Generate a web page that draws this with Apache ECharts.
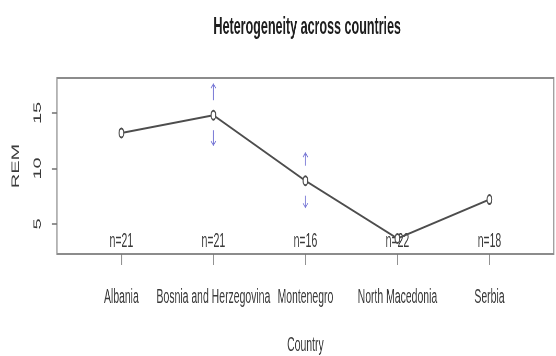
<!DOCTYPE html>
<html>
<head>
<meta charset="utf-8">
<script src="https://cdn.jsdelivr.net/npm/echarts@6/dist/echarts.min.js"></script>
<style>
  html, body { margin: 0; padding: 0; overflow: hidden; background: #fff; width: 556px; height: 356px; }
  /* the plot is laid out wide and then squeezed horizontally */
  #chart { width: 1064px; height: 356px; transform: scaleX(0.5225); transform-origin: 0 0; }
</style>
</head>
<body>
<div id="chart"></div>
<script>
// Mean REM per country with 95% confidence limits and group sizes
const categories = ['Albania', 'Bosnia and Herzegovina', 'Montenegro', 'North Macedonia', 'Serbia'];
const meanREM = [13.2, 14.8, 8.9, 3.7, 7.2];
const ciLower = [12.0, 12.1, 6.5, 2.9, 5.9];
const ciUpper = [14.4, 17.6, 11.4, 4.5, 8.5];
const sampleSizes = [21, 21, 16, 22, 18];
const xTicks = [1, 2, 3, 4, 5];
const yTicks = [5, 10, 15];

const X_MIN = 0.3, X_MAX = 5.7;
const Y_MIN = 2.3, Y_MAX = 18.15;

const FONT = '"Liberation Sans", Arial, sans-serif';
const TEXT_COLOR = '#3a3a3a';
const FRAME_COLOR = '#8c8c8c';

const chart = echarts.init(document.getElementById('chart'));

// CI bars: arrows pointing away from the mean, with a gap around the point
function renderErrorBar(params, api) {
  const x = api.value(0), mean = api.value(1), lo = api.value(2), hi = api.value(3);
  const pm = api.coord([x, mean]);
  const ph = api.coord([x, hi]);
  const pl = api.coord([x, lo]);
  const gap = 15, head = 4, half = 4.5;
  const style = { stroke: '#7878d6', lineWidth: 1.3, fill: null };
  const children = [];
  if (pm[1] - gap > ph[1]) {
    children.push({ type: 'line', shape: { x1: pm[0], y1: pm[1] - gap, x2: ph[0], y2: ph[1] }, style });
    children.push({ type: 'polyline', shape: { points: [[ph[0] - half, ph[1] + head], [ph[0], ph[1]], [ph[0] + half, ph[1] + head]] }, style });
  }
  if (pm[1] + gap < pl[1]) {
    children.push({ type: 'line', shape: { x1: pm[0], y1: pm[1] + gap, x2: pl[0], y2: pl[1] }, style });
    children.push({ type: 'polyline', shape: { points: [[pl[0] - half, pl[1] - head], [pl[0], pl[1]], [pl[0] + half, pl[1] - head]] }, style });
  }
  return { type: 'group', children };
}

// "n=.." labels just above the bottom of the plot region
function renderCount(params, api) {
  const p = api.coord([api.value(0), Y_MIN]);
  return {
    type: 'text',
    x: p[0],
    y: p[1] - 13,
    style: {
      text: 'n=' + api.value(1),
      align: 'center',
      verticalAlign: 'middle',
      font: '20px ' + FONT,
      fill: TEXT_COLOR
    }
  };
}

const option = {
  animation: false,
  backgroundColor: '#fff',
  title: {
    text: 'Heterogeneity across countries',
    left: 588,
    top: 15,
    padding: 0,
    textAlign: 'center',
    textStyle: { fontFamily: FONT, fontSize: 24, fontWeight: 'bold', color: '#1e1e1e' }
  },
  grid: {
    left: 109, right: 4, top: 78, bottom: 102,
    show: true, borderColor: FRAME_COLOR, borderWidth: 2, backgroundColor: 'transparent'
  },
  xAxis: {
    type: 'value',
    min: X_MIN, max: X_MAX,
    name: 'Country',
    nameLocation: 'middle',
    nameGap: 81,
    nameTextStyle: { fontFamily: FONT, fontSize: 20, color: TEXT_COLOR },
    axisLine: { show: true, lineStyle: { color: FRAME_COLOR, width: 2 } },
    axisTick: { show: true, customValues: xTicks, length: 11, lineStyle: { color: '#777', width: 1.6 } },
    axisLabel: {
      customValues: xTicks,
      formatter: v => categories[Math.round(v) - 1],
      margin: 33,
      fontFamily: FONT, fontSize: 20, color: TEXT_COLOR
    },
    splitLine: { show: false }
  },
  yAxis: {
    type: 'value',
    min: Y_MIN, max: Y_MAX,
    name: 'REM',
    nameLocation: 'middle',
    nameGap: 69,
    nameTextStyle: { fontFamily: FONT, fontSize: 20, color: TEXT_COLOR },
    axisLine: { show: true, lineStyle: { color: FRAME_COLOR, width: 2.2 } },
    axisTick: { show: true, customValues: yTicks, length: 10, lineStyle: { color: '#777', width: 1.6 } },
    axisLabel: {
      customValues: yTicks,
      rotate: 90,
      margin: 27,
      fontFamily: FONT, fontSize: 20, color: TEXT_COLOR
    },
    splitLine: { show: false }
  },
  series: [
    {
      type: 'custom',
      renderItem: renderErrorBar,
      encode: { x: 0, y: [1, 2, 3] },
      data: categories.map((c, i) => [i + 1, meanREM[i], ciLower[i], ciUpper[i]]),
      z: 1
    },
    {
      type: 'line',
      data: categories.map((c, i) => [i + 1, meanREM[i]]),
      symbol: 'emptyCircle',
      symbolSize: 9,
      lineStyle: { color: '#4d4d4d', width: 2 },
      itemStyle: { color: '#4d4d4d', borderWidth: 1.6 },
      z: 3
    },
    {
      type: 'custom',
      renderItem: renderCount,
      encode: { x: 0 },
      data: categories.map((c, i) => [i + 1, sampleSizes[i]]),
      z: 2
    }
  ]
};

chart.setOption(option);
</script>
</body>
</html>
